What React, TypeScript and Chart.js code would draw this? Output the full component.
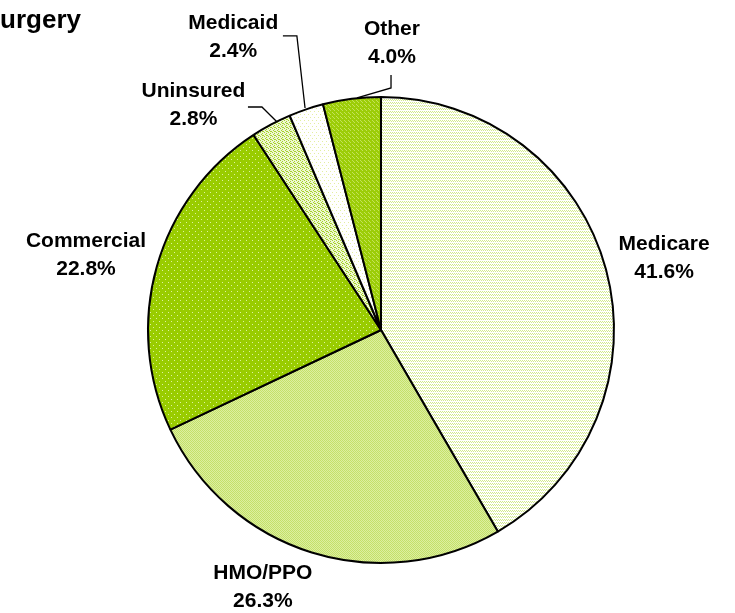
import React, { useEffect, useRef } from 'react';
import { Chart, registerables } from 'chart.js';

Chart.register(...registerables);

// ---- data ----
const categories = ['Medicare', 'HMO/PPO', 'Commercial', 'Uninsured', 'Medicaid', 'Other'];
const shares = [41.6, 26.3, 22.8, 2.8, 2.4, 4.0];
const titleText = 'Surgery';

// ---- label layout (in units of the pie radius, relative to the pie centre) ----
const labelPos: [number, number][] = [
  [1.215, -0.309],
  [-0.507, 1.103],
  [-1.266, -0.322],
  [-0.805, -0.966],
  [-0.634, -1.257],
  [0.047, -1.232],
];
const leaders: ([number, number][] | null)[] = [
  null,
  null,
  null,
  [[-0.571, -0.957], [-0.511, -0.957], [-0.446, -0.893]],
  [[-0.421, -1.262], [-0.361, -1.262], [-0.326, -0.953]],
  [[0.043, -1.094], [0.043, -1.039], [-0.103, -0.996]],
];

function makePattern(w: number, h: number, bg: string, fg: string, pts: number[][]) {
  const c = document.createElement('canvas');
  c.width = w;
  c.height = h;
  const x = c.getContext('2d')!;
  x.fillStyle = bg;
  x.fillRect(0, 0, w, h);
  x.fillStyle = fg;
  pts.forEach(([a, b]) => x.fillRect(a, b, 1, 1));
  return x.createPattern(c, 'repeat')!;
}

const FONT = '"Liberation Sans", Arial, sans-serif';

const labelPlugin = {
  id: 'pieLabels',
  afterDatasetsDraw(chart: any) {
    const meta = chart.getDatasetMeta(0);
    const arc = meta.data[0];
    if (!arc) return;
    const cx = arc.x;
    const cy = arc.y;
    const r = arc.outerRadius;
    const ctx = chart.ctx;
    ctx.save();
    // leader lines
    ctx.strokeStyle = '#000';
    ctx.lineWidth = 1.3;
    leaders.forEach((pl) => {
      if (!pl) return;
      ctx.beginPath();
      pl.forEach(([dx, dy], i) => {
        const px = cx + dx * r;
        const py = cy + dy * r;
        if (i === 0) ctx.moveTo(px, py);
        else ctx.lineTo(px, py);
      });
      ctx.stroke();
    });
    // labels
    ctx.fillStyle = '#000';
    ctx.font = `bold 21px ${FONT}`;
    ctx.textAlign = 'center';
    ctx.textBaseline = 'middle';
    categories.forEach((name, i) => {
      const [dx, dy] = labelPos[i];
      const lx = cx + dx * r;
      const ly = cy + dy * r;
      ctx.fillText(name, lx, ly - 14);
      ctx.fillText(`${shares[i].toFixed(1)}%`, lx, ly + 14);
    });
    // (clipped) title
    ctx.font = `bold 26px ${FONT}`;
    ctx.textAlign = 'right';
    ctx.textBaseline = 'alphabetic';
    ctx.fillText(titleText, 81, 28);
    ctx.restore();
  },
};

export default function App() {
  const ref = useRef<HTMLCanvasElement>(null);

  useEffect(() => {
    document.body.style.margin = '0';
    const canvas = ref.current;
    if (!canvas) return;

    const fills = [
      makePattern(4, 3, '#ffffff', '#d2ea8a', [[0, 0], [2, 0], [1, 1], [3, 1]]),
      makePattern(2, 2, '#dcefa0', '#c4e06a', [[0, 0], [1, 1]]),
      makePattern(6, 6, '#99cc00', '#def2a0', [[0, 0], [3, 3]]),
      makePattern(4, 4, '#eef7d2', '#a6d22a', [[0, 0], [2, 1], [1, 2], [3, 3], [2, 3]]),
      makePattern(4, 6, '#ffffff', '#e4eea0', [[0, 0], [2, 3]]),
      makePattern(4, 4, '#9ccd08', '#c4e25a', [[0, 0], [2, 2], [1, 1]]),
    ];

    const chart = new Chart(canvas, {
      type: 'pie',
      data: {
        labels: categories,
        datasets: [
          {
            data: shares,
            backgroundColor: fills as any,
            borderColor: '#000000',
            borderWidth: 2,
          },
        ],
      },
      options: {
        responsive: false,
        animation: false,
        layout: { padding: { top: 96, bottom: 49, left: 140, right: 113 } },
        plugins: {
          legend: { display: false },
          tooltip: { enabled: false },
          title: { display: false },
        },
      },
      plugins: [labelPlugin],
    });
    return () => chart.destroy();
  }, []);

  return (
    <div style={{ width: 735, height: 613, background: '#fff' }}>
      <canvas ref={ref} width={735} height={613} style={{ display: 'block', width: 735, height: 613 }} />
    </div>
  );
}
